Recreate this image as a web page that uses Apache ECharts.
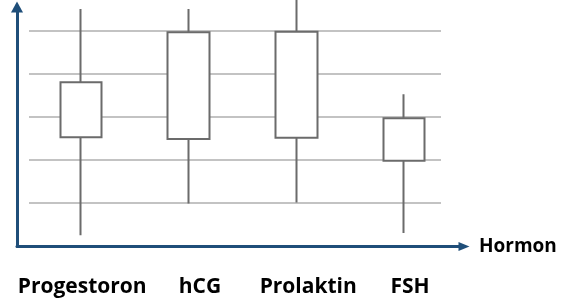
<!DOCTYPE html>
<html>
<head>
<meta charset="utf-8">
<script src="https://cdn.jsdelivr.net/npm/echarts@6/dist/echarts.min.js"></script>
<style>
html,body{margin:0;padding:0;background:#fff;}
#main{width:574px;height:304px;}
</style>
</head>
<body>
<div id="main"></div>
<script>
// kategori hormon
var categories = ['Progestoron', 'hCG', 'Prolaktin', 'FSH'];
// kotak: bawah kotak, atas kotak, ujung bawah, ujung atas (satuan = jarak garis grid)
var boxLow = [2.53, 2.49, 2.52, 1.98];
var boxHigh = [3.81, 4.97, 4.98, 2.97];
var whiskerLow = [0.25, 0.99, 1.01, 0.30];
var whiskerHigh = [5.51, 5.51, 5.72, 3.53];

var yMax = 246 / 43;
var candleData = [];
for (var i = 0; i < categories.length; i++) {
    candleData.push([boxLow[i], boxHigh[i], whiskerLow[i], whiskerHigh[i]]);
}

var chart = echarts.init(document.getElementById('main'));
var hidden = {show: false};
var labelFont = {fontFamily: 'Open Sans', fontWeight: 'bold', fontSize: 21, color: '#000'};
//geser label sedikit supaya posisinya sama dengan gambar
var labelRich = {
    c0: Object.assign({padding: [0, 8, 0, 0]}, labelFont),
    c1: Object.assign({padding: [0, 0, 0, 9]}, labelFont),
    c2: Object.assign({padding: [0, 0, 0, 7]}, labelFont),
    c3: Object.assign({padding: [0, 8, 0, 0]}, labelFont)
};
var option = {
    animation: false,
    grid: [
        {left: 29, right: 133, top: 0, bottom: 58},      //garis grid
        {left: 27.2, right: 116.2, top: 0, bottom: 58},  //kotak
        {left: 17, right: 110, top: 7, bottom: 57.5},    //sumbu panah
        {left: 31.6, right: 105.4, top: 0, bottom: 58}   //label
    ],
    xAxis: [
        {gridIndex: 0, type: 'value', min: 0, max: 1, axisLine: hidden, axisTick: hidden, axisLabel: hidden, splitLine: hidden},
        {gridIndex: 1, type: 'category', data: categories, axisLine: hidden, axisTick: hidden, axisLabel: hidden, splitLine: hidden},
        {
            gridIndex: 2, type: 'value', min: 0, max: 1,
            name: 'Hormon', nameLocation: 'end', nameGap: 15,
            nameTextStyle: {fontFamily: 'Open Sans', fontWeight: 'bold', fontSize: 19, color: '#000', verticalAlign: 'middle'},
            axisLine: {show: true, symbol: ['none', 'triangle'], symbolSize: [9, 11], lineStyle: {color: '#1f4e79', width: 3}},
            axisTick: hidden, axisLabel: hidden, splitLine: hidden
        },
        {
            gridIndex: 3, type: 'category', data: categories,
            axisLine: hidden, axisTick: hidden, splitLine: hidden,
            axisLabel: {
                show: true, interval: 0, margin: 31,
                formatter: function (v, idx) { return '{c' + idx + '|' + v + '}'; },
                rich: labelRich
            }
        }
    ],
    yAxis: [
        {
            gridIndex: 0, type: 'value', min: 0, max: yMax, interval: 1,
            axisLine: hidden, axisTick: hidden, axisLabel: hidden,
            splitLine: {show: true, showMinLine: false, showMaxLine: false, lineStyle: {color: '#c3c3c3', width: 2}}
        },
        {gridIndex: 1, type: 'value', min: 0, max: yMax, axisLine: hidden, axisTick: hidden, axisLabel: hidden, splitLine: hidden},
        {
            gridIndex: 2, type: 'value', min: 0, max: 1,
            axisLine: {show: true, symbol: ['none', 'triangle'], symbolSize: [12, 11], lineStyle: {color: '#1f4e79', width: 3}},
            axisTick: hidden, axisLabel: hidden, splitLine: hidden
        },
        {gridIndex: 3, type: 'value', axisLine: hidden, axisTick: hidden, axisLabel: hidden, splitLine: hidden}
    ],
    series: [
        {
            type: 'candlestick',
            xAxisIndex: 1,
            yAxisIndex: 1,
            barWidth: 42,
            clip: false,
            itemStyle: {
                color: '#fff', color0: '#fff',
                borderColor: '#6b6b6b', borderColor0: '#6b6b6b',
                borderWidth: 2
            },
            data: candleData
        }
    ]
};
chart.setOption(option);
</script>
</body>
</html>
